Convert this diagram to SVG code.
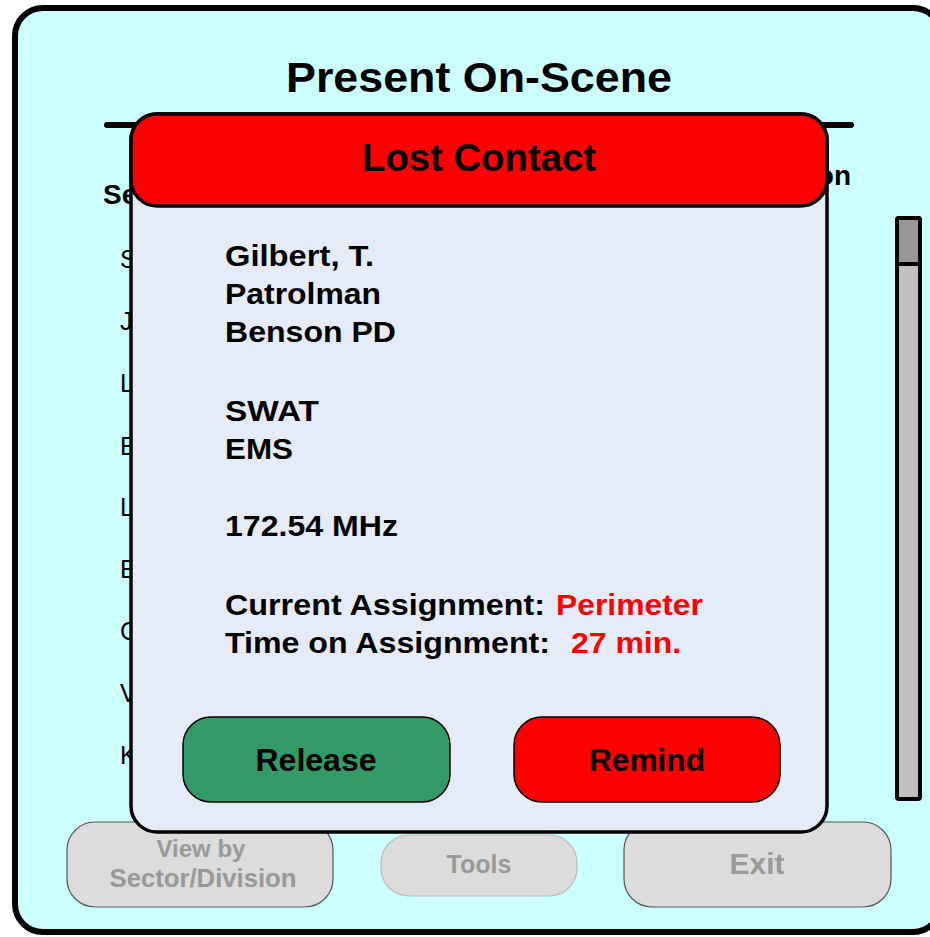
<svg xmlns="http://www.w3.org/2000/svg" width="930" height="937" viewBox="0 0 930 937">
  <style>
    text { font-family: "Liberation Sans", Arial, sans-serif; }
    .b { font-weight: bold; }
    .list { font-size: 25px; fill: #000; }
    .info { font-size: 30px; font-weight: bold; fill: #000; }
    .hot { fill: #ff0000; }
    .btn { stroke: #000; stroke-width: 1.5; }
    .off { fill: #dcdcdc; stroke: #555; stroke-width: 1.2; }
    .offtxt { fill: #999; font-weight: bold; text-anchor: middle; }
  </style>

  <!-- main window -->
  <g id="window">
    <rect x="15" y="8" width="926" height="924" rx="28" fill="#ccffff" stroke="#000" stroke-width="6"/>
    <text class="b" x="479" y="92" font-size="43" text-anchor="middle" textLength="386" lengthAdjust="spacingAndGlyphs">Present On-Scene</text>
    <line x1="107" y1="125" x2="851" y2="125" stroke="#000" stroke-width="6" stroke-linecap="round"/>
    <text class="b" x="103" y="204" font-size="28">Sector</text>
    <text class="b" x="851" y="185" font-size="28" text-anchor="end">Position</text>
  </g>

  <!-- roster list -->
  <g id="roster" class="list">
    <text x="120" y="268">Smith</text>
    <text x="120" y="330">Jones</text>
    <text x="120" y="392">Lee</text>
    <text x="120" y="455">Evans</text>
    <text x="120" y="516">Lopez</text>
    <text x="120" y="578">Ellis</text>
    <text x="120" y="640">Cole</text>
    <text x="120" y="702">Vance</text>
    <text x="120" y="764">Kerr</text>
  </g>

  <!-- scrollbar -->
  <g id="scrollbar">
    <rect x="897" y="218" width="23" height="581" rx="2" fill="#c0c0c0" stroke="#000" stroke-width="4"/>
    <rect x="897" y="218" width="23" height="46" rx="2" fill="#969696" stroke="#000" stroke-width="4"/>
  </g>

  <!-- bottom toolbar (disabled) -->
  <g id="btn-view">
    <rect class="off" x="67" y="822" width="266" height="85" rx="28"/>
    <text class="offtxt" x="201" y="857" font-size="24">View by</text>
    <text class="offtxt" x="203" y="887" font-size="25" textLength="187" lengthAdjust="spacingAndGlyphs">Sector/Division</text>
  </g>
  <g id="btn-tools">
    <rect x="381" y="835" width="196" height="61" rx="28" fill="#dcdcdc" stroke="#bbb" stroke-width="1.2"/>
    <text class="offtxt" x="479" y="873" font-size="25">Tools</text>
  </g>
  <g id="btn-exit">
    <rect class="off" x="624" y="822" width="267" height="85" rx="28"/>
    <text class="offtxt" x="757" y="874" font-size="30">Exit</text>
  </g>

  <!-- alert popup -->
  <g id="popup">
    <rect x="131" y="114" width="696" height="718" rx="26" fill="#e6ecf7" stroke="#000" stroke-width="3.5"/>
    <rect x="131" y="114" width="696" height="92" rx="26" fill="#ff0000" stroke="#000" stroke-width="3.5"/>
    <text class="b" x="479" y="171" font-size="38" text-anchor="middle" textLength="234" lengthAdjust="spacingAndGlyphs">Lost Contact</text>

    <text class="info" x="225" y="266" textLength="149" lengthAdjust="spacingAndGlyphs">Gilbert, T.</text>
    <text class="info" x="225" y="304" textLength="156" lengthAdjust="spacingAndGlyphs">Patrolman</text>
    <text class="info" x="225" y="342" textLength="171" lengthAdjust="spacingAndGlyphs">Benson PD</text>
    <text class="info" x="225" y="421" textLength="94" lengthAdjust="spacingAndGlyphs">SWAT</text>
    <text class="info" x="225" y="459" textLength="68" lengthAdjust="spacingAndGlyphs">EMS</text>
    <text class="info" x="225" y="536" textLength="173" lengthAdjust="spacingAndGlyphs">172.54 MHz</text>
    <text class="info" x="225" y="615" textLength="320" lengthAdjust="spacingAndGlyphs">Current Assignment:</text>
    <text class="info hot" x="556" y="615" textLength="147" lengthAdjust="spacingAndGlyphs">Perimeter</text>
    <text class="info" x="225" y="653" textLength="325" lengthAdjust="spacingAndGlyphs">Time on Assignment:</text>
    <text class="info hot" x="571" y="653" textLength="110" lengthAdjust="spacingAndGlyphs">27 min.</text>
  </g>

  <g id="btn-release">
    <rect class="btn" x="183" y="717" width="267" height="85" rx="28" fill="#339966"/>
    <text class="b" x="316" y="771" font-size="31" text-anchor="middle" textLength="121" lengthAdjust="spacingAndGlyphs">Release</text>
  </g>
  <g id="btn-remind">
    <rect class="btn" x="514" y="717" width="266" height="85" rx="28" fill="#ff0000"/>
    <text class="b" x="647" y="771" font-size="31" text-anchor="middle" textLength="116" lengthAdjust="spacingAndGlyphs">Remind</text>
  </g>
</svg>
